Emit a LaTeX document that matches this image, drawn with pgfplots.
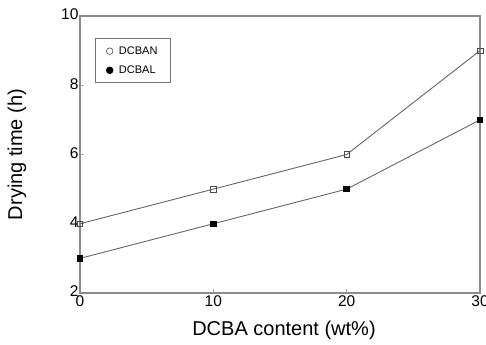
\documentclass[border=0pt]{standalone}
\usepackage{fontspec}
\setmainfont{Liberation Sans}
\usepackage{pgfplots}
\pgfplotsset{compat=1.18}
\begin{document}
\begin{tikzpicture}
\begin{axis}[
  scale only axis,
  width=400bp, height=277bp,
  xmin=0, xmax=30, ymin=2, ymax=10,
  xtick={0,10,20,30}, ytick={2,4,6,8,10},
  tick align=inside,
  major tick length=4bp,
  xtick pos=left, ytick pos=left,
  axis line style={draw=black!45, line width=1.4bp},
  tick style={draw=black!35, line width=0.6bp},
  /pgf/number format/assume math mode=true,
  tick label style={font=\fontsize{15.5bp}{17bp}\selectfont},
  xticklabel style={yshift=1bp},
  yticklabel style={xshift=2bp, yshift=1.5bp},
  xlabel={DCBA content (wt\%)},
  ylabel={Drying time (h)},
  label style={font=\fontsize{20bp}{22bp}\selectfont},
  xlabel style={at={(axis description cs:0.51,0)}, anchor=center, yshift=-37bp},
  ylabel style={at={(axis description cs:-0.1575,0.5)}, anchor=center},
  legend style={at={(axis description cs:0.0375,0.92)}, anchor=north west,
    draw=black!55, line width=0.8bp, font=\fontsize{11bp}{13bp}\selectfont,
    inner xsep=11bp, inner ysep=6bp, row sep=6bp, cells={anchor=west}},
  legend cell align=left,
]
\addplot[black!60, line width=0.9bp, mark=square, mark size=2.8bp, mark options={fill=white, draw=black!70, line width=0.6bp}, forget plot]
  coordinates {(0,4) (10,5) (20,6) (30,9)};
\addplot[black!60, line width=0.9bp, mark=square*, mark size=2.8bp, mark options={fill=black, draw=black}, forget plot]
  coordinates {(0,3) (10,4) (20,5) (30,7)};
\addlegendimage{only marks, mark=o, mark size=3.3bp, mark options={draw=black!70, line width=0.6bp}}
\addlegendentry{\hspace{4bp}DCBAN\hspace{10bp}}
\addlegendimage{only marks, mark=*, mark size=3.3bp, mark options={fill=black}}
\addlegendentry{\hspace{4bp}DCBAL}
\end{axis}
\pgfresetboundingbox
\path[use as bounding box] (-80bp,-52bp) rectangle (406bp,293bp);
\end{tikzpicture}
\end{document}
